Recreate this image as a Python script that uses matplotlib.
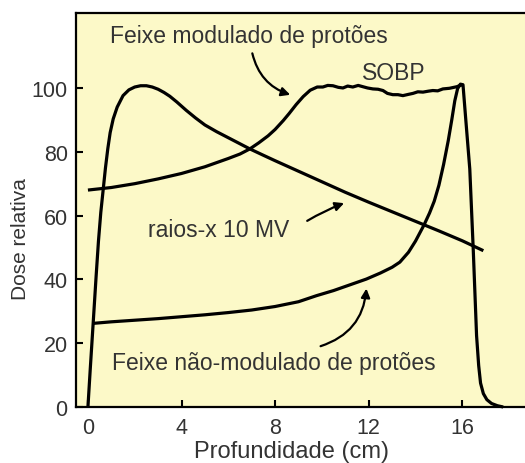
import matplotlib
matplotlib.use("Agg")
from matplotlib import pyplot as plt

plt.rcParams['font.family'] = ['Liberation Sans', 'DejaVu Sans']

# raios-x 10 MV
xray_x = [0.0, 0.1, 0.23, 0.35, 0.45, 0.55, 0.65, 0.75, 0.85, 0.95, 1.08, 1.25,
          1.5, 1.75, 2.0, 2.25, 2.5, 2.75, 3.0, 3.25, 3.5, 3.8, 4.2, 4.6, 5.0,
          5.5, 6.0, 6.5, 6.92, 7.5, 8.0, 9.0, 10.0, 11.0, 12.0, 13.0, 14.0, 15.0,
          16.0, 16.9]
xray_y = [0, 12, 27, 41, 52, 61, 68, 75, 81, 86, 90.3, 94.0,
          97.6, 99.4, 100.3, 100.7, 100.7, 100.3, 99.6, 98.6, 97.4, 95.6, 93.0, 90.6, 88.4,
          86.3, 84.4, 82.5, 80.9, 78.9, 77.2, 73.9, 70.6, 67.3, 64.2, 61.2, 58.2, 55.2,
          52.1, 49.0]

# feixe modulado de protoes (SOBP)
sobp_x = [0.0, 1.0, 2.0, 3.0, 4.0, 5.0, 6.0, 6.5, 6.92, 7.3, 7.7, 8.0, 8.35, 8.6,
          8.9, 9.2, 9.5, 9.8, 10.04, 10.25, 10.47, 10.7, 10.9, 11.1, 11.32, 11.55,
          11.75, 11.95, 12.18, 12.4, 12.61, 12.8, 13.03, 13.25, 13.46, 13.7, 13.89,
          14.1, 14.32, 14.55, 14.74, 14.95, 15.17, 15.45, 15.77, 15.9, 16.03, 16.15,
          16.32, 16.47, 16.61, 16.7, 16.78, 16.9, 17.05, 17.25, 17.5, 17.75]
sobp_y = [68, 68.8, 70.0, 71.5, 73.2, 75.3, 77.9, 79.3, 80.9, 82.8, 85.0, 87.0, 89.8, 92.0,
          94.8, 97.3, 99.3, 100.3, 100.3, 100.8, 100.7, 100.2, 100.0, 100.6, 100.3, 100.8,
          100.4, 100.0, 99.7, 99.6, 99.2, 98.3, 97.9, 97.9, 97.6, 98.0, 98.3,
          98.8, 98.7, 99.0, 99.2, 99.1, 99.7, 99.9, 100.4, 100.8, 101.0, 90.0,
          74.6, 49.0, 22.4, 13.0, 7.5, 4.2, 2.3, 1.1, 0.4, 0.0]

# feixe nao-modulado de protoes (Bragg)
bragg_x = [0.2, 1.0, 2.0, 3.0, 4.0, 5.0, 6.0, 7.0, 8.0, 9.0, 9.77, 10.5, 11.2,
           11.9, 12.5, 13.0, 13.33, 13.7, 14.0, 14.36, 14.6, 14.8, 15.0, 15.2,
           15.4, 15.55, 15.68, 15.8, 15.92, 16.03]
bragg_y = [26.2, 26.7, 27.2, 27.7, 28.3, 28.9, 29.6, 30.4, 31.5, 33.0, 34.9, 36.5, 38.3,
           40.1, 42.0, 43.8, 45.4, 48.5, 52.0, 57.0, 60.8, 64.5, 69.5, 76.0,
           83.5, 90.0, 96.0, 99.8, 101.2, 101.0]

xticks = [0, 4, 8, 12, 16]
yticks = [0, 20, 40, 60, 80, 100]

txt_color = '#333333'

fig = plt.figure(figsize=(5.25, 4.64), dpi=100)
ax = fig.add_axes([76 / 525, 1 - 408 / 464, 1 - 76 / 525, (408 - 14) / 464])
ax.set_facecolor('#fcf9c8')

for xs, ys in [(xray_x, xray_y), (sobp_x, sobp_y), (bragg_x, bragg_y)]:
    ax.plot(xs, ys, color='black', lw=2.3, solid_joinstyle='round',
            solid_capstyle='butt', clip_on=False)

ax.set_xlim(-0.51, 18.68)
ax.set_ylim(0, 123.5)
ax.set_xticks(xticks)
ax.set_yticks(yticks)
ax.tick_params(direction='in', length=5, width=1.5, labelsize=15.5,
               labelcolor=txt_color, pad=6)
ax.tick_params(axis='x', pad=7)
ax.spines['right'].set_visible(False)
for s in ['left', 'bottom', 'top']:
    ax.spines[s].set_linewidth(1.6)

ax.set_xlabel('Profundidade (cm)', fontsize=17, color=txt_color)
ax.xaxis.set_label_coords(0.481, -0.083)
ax.set_ylabel('Dose relativa', fontsize=15, color=txt_color)
ax.yaxis.set_label_coords(-0.103, 0.43)

ax.text(0.94, 116.6, 'Feixe modulado de protões', fontsize=16.5, color=txt_color,
        ha='left', va='center')
ax.text(13.06, 104.8, 'SOBP', fontsize=16.5, color=txt_color, ha='center', va='center')
ax.text(2.56, 55.5, 'raios-x 10 MV', fontsize=16.5, color=txt_color, ha='left', va='center')
ax.text(1.03, 13.9, 'Feixe não-modulado de protões', fontsize=16.5, color=txt_color,
        ha='left', va='center')

arrow = dict(arrowstyle='-|>', color='black', lw=1.6, mutation_scale=13)
ax.annotate('', xy=(8.76, 97.6), xytext=(7.0, 111.7),
            arrowprops=dict(arrow, connectionstyle='arc3,rad=0.3'))
ax.annotate('', xy=(11.06, 64.2), xytext=(9.27, 57.9),
            arrowprops=dict(arrow, connectionstyle='arc3,rad=-0.05'))
ax.annotate('', xy=(11.91, 38.0), xytext=(9.83, 18.8),
            arrowprops=dict(arrow, connectionstyle='arc3,rad=0.35'))

fig.savefig('out.png', dpi=100)
